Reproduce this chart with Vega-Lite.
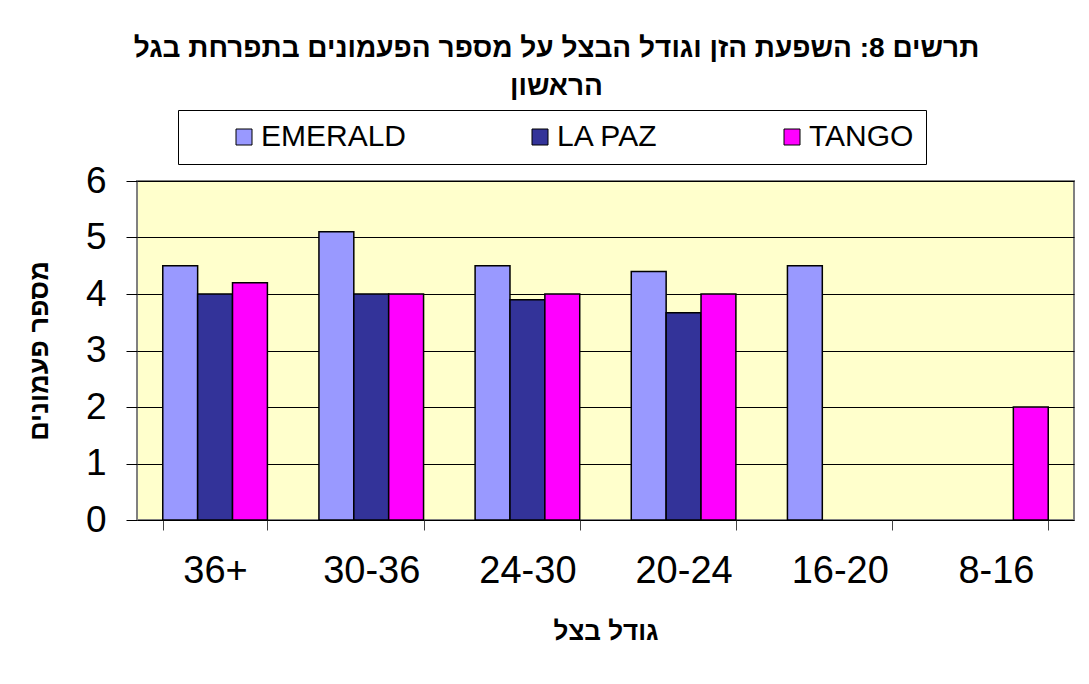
{
  "$schema": "https://vega.github.io/schema/vega-lite/v6.json",
  "width": 937,
  "height": 339,
  "autosize": {"type": "none"},
  "padding": {"left": 137, "top": 181, "right": 15, "bottom": 164},
  "background": "white",
  "title": {
    "text": ["תרשים 8: השפעת הזן וגודל הבצל על מספר הפעמונים בתפרחת בגל", "הראשון"],
    "font": "Liberation Sans",
    "fontSize": 28,
    "fontWeight": "bold",
    "color": "black",
    "anchor": "middle",
    "frame": "group",
    "dx": -49,
    "lineHeight": 38,
    "offset": 9
  },
  "data": {
    "values": [
      {"size": "36+", "variety": "EMERALD", "value": 4.5},
      {"size": "36+", "variety": "LA PAZ", "value": 4.0},
      {"size": "36+", "variety": "TANGO", "value": 4.2},
      {"size": "30-36", "variety": "EMERALD", "value": 5.1},
      {"size": "30-36", "variety": "LA PAZ", "value": 4.0},
      {"size": "30-36", "variety": "TANGO", "value": 4.0},
      {"size": "24-30", "variety": "EMERALD", "value": 4.5},
      {"size": "24-30", "variety": "LA PAZ", "value": 3.9},
      {"size": "24-30", "variety": "TANGO", "value": 4.0},
      {"size": "20-24", "variety": "EMERALD", "value": 4.4},
      {"size": "20-24", "variety": "LA PAZ", "value": 3.67},
      {"size": "20-24", "variety": "TANGO", "value": 4.0},
      {"size": "16-20", "variety": "EMERALD", "value": 4.5},
      {"size": "8-16", "variety": "TANGO", "value": 2.0}
    ]
  },
  "mark": {"type": "bar", "stroke": "black", "strokeWidth": 1.5},
  "encoding": {
    "x": {
      "field": "size",
      "type": "nominal",
      "sort": ["36+", "30-36", "24-30", "20-24", "16-20", "8-16"],
      "scale": {"paddingInner": 0.33, "paddingOuter": 0.165},
      "axis": {
        "title": "גודל בצל",
        "titleFont": "Liberation Sans",
        "titleFontSize": 26,
        "titleFontWeight": "bold",
        "titleColor": "black",
        "titlePadding": 28,
        "labelAngle": 0,
        "labelFont": "Liberation Sans",
        "labelFontSize": 38,
        "labelColor": "black",
        "labelPadding": 22,
        "tickBand": "extent",
        "tickSize": 10,
        "tickColor": "#444444",
        "domain": false
      }
    },
    "xOffset": {
      "field": "variety",
      "type": "nominal",
      "scale": {"domain": ["EMERALD", "LA PAZ", "TANGO"], "paddingInner": 0, "paddingOuter": 0}
    },
    "y": {
      "field": "value",
      "type": "quantitative",
      "scale": {"domain": [0, 6], "nice": false},
      "axis": {
        "values": [0, 1, 2, 3, 4, 5, 6],
        "title": "מספר פעמונים",
        "titleFont": "Liberation Sans",
        "titleFontSize": 27,
        "titleFontWeight": "bold",
        "titleColor": "black",
        "titlePadding": 32,
        "labelFont": "Liberation Sans",
        "labelFontSize": 37,
        "labelColor": "black",
        "labelPadding": 20,
        "tickSize": 11,
        "tickColor": "black",
        "grid": true,
        "gridColor": "black",
        "gridWidth": 1,
        "domain": false
      }
    },
    "color": {
      "field": "variety",
      "type": "nominal",
      "scale": {"domain": ["EMERALD", "LA PAZ", "TANGO"], "range": ["#9999FF", "#333399", "#FF00FF"]},
      "legend": {
        "orient": "none",
        "legendX": 41,
        "legendY": -71,
        "direction": "horizontal",
        "columns": 3,
        "title": null,
        "symbolType": "square",
        "symbolSize": 256,
        "symbolStrokeColor": "black",
        "symbolStrokeWidth": 1,
        "symbolOpacity": 1,
        "symbolOffset": 39,
        "labelFont": "Liberation Sans",
        "labelFontSize": 30,
        "labelColor": "black",
        "labelOffset": 2,
        "columnPadding": 79,
        "padding": 12,
        "strokeColor": "black",
        "fillColor": "white"
      }
    }
  },
  "config": {
    "view": {"fill": "#FFFFCC", "stroke": "#808080", "strokeWidth": 2}
  }
}
